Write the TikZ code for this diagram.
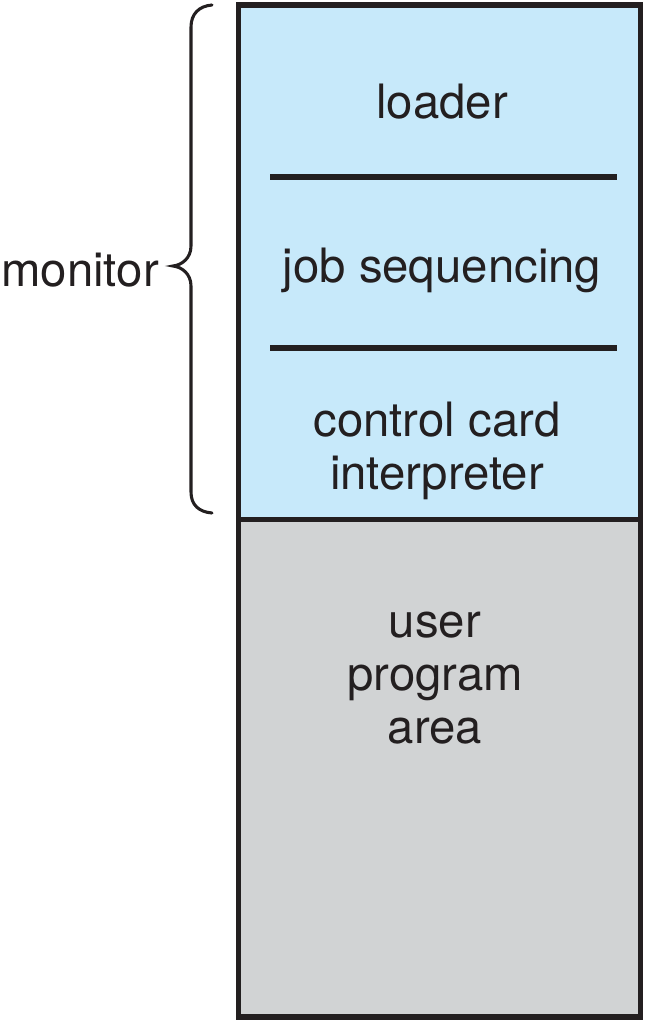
\documentclass[tikz,border=0pt]{standalone}
\usepackage{fontspec}
\setmainfont{TeX Gyre Heros}
\definecolor{monblue}{HTML}{C7E9FA}
\definecolor{usergray}{HTML}{D1D3D4}
\definecolor{inkc}{HTML}{231F20}
\begin{document}
\begin{tikzpicture}[x=0.75pt,y=-0.75pt,
  lbl/.style={font=\fontsize{35.5}{39.8}\selectfont, text=inkc, align=center, inner sep=0pt},
  frame/.style={draw=inkc, line width=4.3pt},
  sep/.style={draw=inkc, line width=3.8pt},
  bracec/.style={draw=inkc, line width=2.3pt, line cap=round}]
\useasboundingbox (0,0) rectangle (650,1024);
\fill[monblue] (238.5,5) rectangle (640.5,519.5);
\fill[usergray] (238.5,519.5) rectangle (640.5,1017);
\draw[frame] (238.5,5) rectangle (640.5,1017);
\draw[frame] (238.5,519.5) -- (640.5,519.5);
\coordinate (s1a) at (270,177); \coordinate (s1b) at (617,177);
\coordinate (s2a) at (270,348); \coordinate (s2b) at (617,348);
\draw[sep] (s1a) -- (s1b);
\draw[sep] (s2a) -- (s2b);
\node[lbl] (loader) at (442,102) {loader};
\node[lbl] (jobseq) at (442,270) {job sequencing};
\node[lbl] (cci) at (437,451) {control card\\interpreter};
\node[lbl] (upa) at (435,678) {user\\program\\area};
\node[lbl, anchor=east] (mon) at (159,270) {monitor};
\draw[bracec] (212,5) .. controls (199,6) and (191,14) .. (191,27)
  -- (191,246) .. controls (191,258) and (182,265) .. (173,266)
  .. controls (182,267) and (191,274) .. (191,286)
  -- (191,492) .. controls (191,505) and (199,512) .. (212,513);
\end{tikzpicture}
\end{document}
